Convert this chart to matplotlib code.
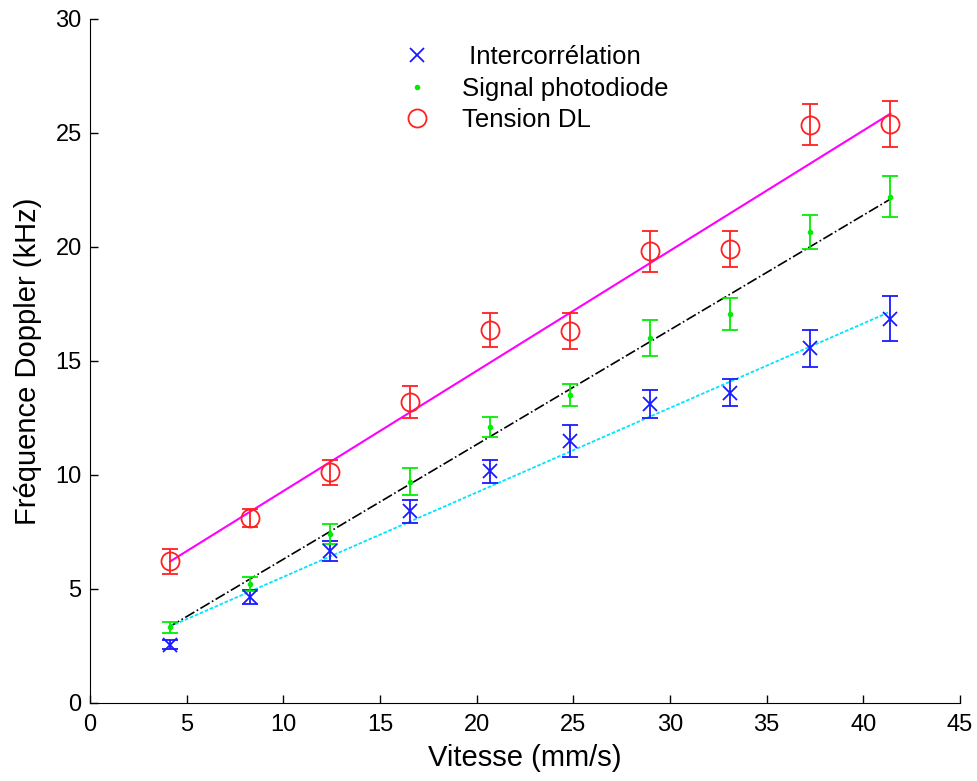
import numpy as np
import matplotlib.pyplot as plt

# vitesse (mm/s)
vitesse = [4.14, 8.28, 12.42, 16.56, 20.7, 24.84, 28.98, 33.12, 37.26, 41.4]

# frequences doppler (kHz) et erreurs
f_inter = [2.55, 4.65, 6.65, 8.4, 10.15, 11.5, 13.1, 13.6, 15.55, 16.85]
err_inter = [0.2, 0.3, 0.45, 0.5, 0.5, 0.7, 0.6, 0.6, 0.8, 1.0]
f_photo = [3.3, 5.2, 7.4, 9.7, 12.1, 13.5, 16.0, 17.05, 20.65, 22.2]
err_photo = [0.25, 0.3, 0.45, 0.6, 0.45, 0.5, 0.8, 0.7, 0.75, 0.9]
f_tension = [6.2, 8.1, 10.1, 13.2, 16.35, 16.3, 19.8, 19.9, 25.35, 25.4]
err_tension = [0.55, 0.4, 0.55, 0.7, 0.75, 0.8, 0.9, 0.8, 0.9, 1.0]

# parametres des droites de regression (pente, ordonnee a l'origine)
fit_inter = [0.3708, 1.81]
fit_photo = [0.5033, 1.26]
fit_tension = [0.5274, 4.01]

plt.rcParams['font.family'] = ['Liberation Sans', 'DejaVu Sans']

fig = plt.figure(figsize=(9.78, 7.81), dpi=100)
ax = fig.add_axes([0.092, 0.1003, 0.8896, 0.8754])

v = np.array(vitesse)
ax.plot(v, np.polyval(fit_tension, v), '-', color='#ff00ff', lw=1.5, zorder=1)
ax.plot(v, np.polyval(fit_photo, v), '-.', color='black', lw=1.2, zorder=1)
ax.plot(v, np.polyval(fit_inter, v), '--', color='#00e5ff', lw=1.3, dashes=(2, 1), zorder=1)

ax.errorbar(vitesse, f_inter, yerr=err_inter, fmt='x', color='#1a1aff', ms=10, mew=1.3,
            capsize=6, elinewidth=1.3, capthick=1.3, label=' Intercorrélation')
ax.errorbar(vitesse, f_photo, yerr=err_photo, fmt='.', color='#00ee00', ms=6,
            capsize=6, elinewidth=1.3, capthick=1.3, label='Signal photodiode')
ax.errorbar(vitesse, f_tension, yerr=err_tension, fmt='o', color='#ff2020', ms=13, mfc='none', mew=1.3,
            capsize=6, elinewidth=1.3, capthick=1.3, label='Tension DL')

ax.set_xlim(0, 45)
ax.set_ylim(0, 30)
ax.set_xticks(range(0, 46, 5))
ax.set_yticks(range(0, 31, 5))
ax.tick_params(direction='in', length=6, labelsize=17, width=1)
ax.tick_params(axis='x', pad=8)
ax.tick_params(axis='y', pad=6)
ax.spines['top'].set_visible(False)
ax.spines['right'].set_visible(False)
ax.set_xlabel('Vitesse (mm/s)', fontsize=21, labelpad=6)
ax.set_ylabel('Fréquence Doppler (kHz)', fontsize=21, labelpad=10)

handles, labels = ax.get_legend_handles_labels()
handles = [h[0] for h in handles]
ax.legend(handles, labels, loc='upper left', bbox_to_anchor=(0.327, 0.996), frameon=False,
          fontsize=18.5, handletextpad=1.0, labelspacing=0.3, handlelength=1.5)

fig.savefig('out.png', dpi=100)
